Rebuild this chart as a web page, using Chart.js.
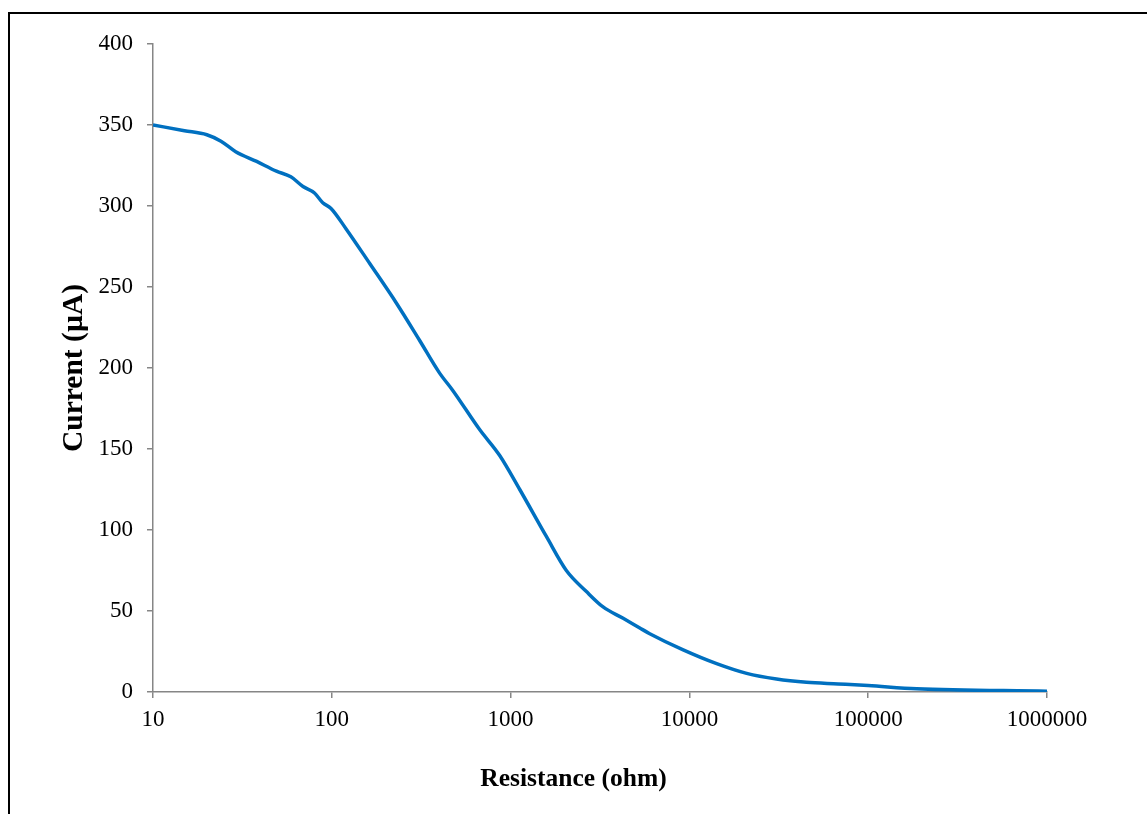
<!DOCTYPE html>
<html>
<head>
<meta charset="utf-8">
<script src="https://cdn.jsdelivr.net/npm/chart.js@4"></script>
<style>
  html, body { margin: 0; padding: 0; background: #fff; overflow: hidden; }
  #wrap { position: relative; width: 1147px; height: 814px; }
  #frame {
    position: absolute; left: 8px; top: 12px; width: 1200px; height: 900px;
    border: 2px solid #000; pointer-events: none;
  }
  canvas { position: absolute; left: 0; top: 0; }
</style>
</head>
<body>
<div id="wrap">
  <canvas id="chart" width="1147" height="814"></canvas>
  <div id="frame"></div>
</div>
<script>
// Resistance in ohm and measured current in µA
const resistance = [10, 15, 20, 24, 29, 38, 49, 59, 69, 80, 89, 99, 120, 163, 230, 310, 400, 476, 671, 869,
  1125, 1585, 2050, 2655, 3290, 4260, 5280, 6000, 9230, 14200, 20900, 30700, 45200, 67900, 100000, 186600, 1000000];
const current = [350, 346.5, 344, 340, 333.5, 327.5, 321.5, 318, 312, 308, 302, 298.5, 286, 264.5, 240, 217, 197, 186, 162, 146,
  125, 96, 75, 62, 52.5, 45.5, 39.5, 36, 26, 17.5, 11.5, 8, 6, 5, 4, 2, 0.5];

const xTicks = [10, 100, 1000, 10000, 100000, 1000000];

const serif = "'Liberation Serif', 'Times New Roman', serif";
const axisGrey = '#868686';

// x axis title sits centred on the whole chart box, not on the plot area
const xTitlePlugin = {
  id: 'xTitle',
  afterDraw(chart) {
    const c = chart.ctx;
    c.save();
    c.fillStyle = '#000';
    c.font = `bold 25.5px ${serif}`;
    c.textAlign = 'center';
    c.textBaseline = 'middle';
    c.fillText('Resistance (ohm)', chart.width / 2, 779);
    c.restore();
  },
};

const ctx = document.getElementById('chart').getContext('2d');
new Chart(ctx, {
  type: 'line',
  data: {
    datasets: [{
      data: resistance.map((r, i) => ({ x: r, y: current[i] })),
      borderColor: '#0070C0',
      borderWidth: 3.5,
      pointRadius: 0,
      cubicInterpolationMode: 'monotone',
      fill: false,
    }],
  },
  options: {
    responsive: false,
    animation: false,
    layout: { padding: { left: 0, top: 44, right: 100, bottom: 0 } },
    plugins: { legend: { display: false }, tooltip: { enabled: false } },
    scales: {
      x: {
        type: 'logarithmic',
        min: 10,
        max: 1000000,
        afterFit: (scale) => { scale.height = 122; },
        afterBuildTicks: (scale) => { scale.ticks = xTicks.map(v => ({ value: v, major: true })); },
        ticks: {
          color: '#000',
          font: { family: serif, size: 23 },
          padding: 8,
          maxRotation: 0,
          autoSkip: false,
          callback: (v) => String(v),
        },
        grid: { display: true, drawOnChartArea: false, drawTicks: true, tickLength: 6, color: axisGrey, lineWidth: 1.5 },
        border: { color: axisGrey, width: 1.5 },
      },
      y: {
        min: 0,
        max: 400,
        afterFit: (scale) => { scale.width = 153; },
        ticks: {
          stepSize: 50,
          color: '#000',
          font: { family: serif, size: 23 },
          padding: 14,
        },
        grid: { display: true, drawOnChartArea: false, drawTicks: true, tickLength: 6, color: axisGrey, lineWidth: 1.5 },
        border: { color: axisGrey, width: 1.5 },
        title: {
          display: true,
          text: 'Current (µA)',
          color: '#000',
          font: { family: serif, size: 29.5, weight: 'bold' },
          padding: { top: 57, bottom: 0 },
        },
      },
    },
  },
  plugins: [xTitlePlugin],
});
</script>
</body>
</html>
